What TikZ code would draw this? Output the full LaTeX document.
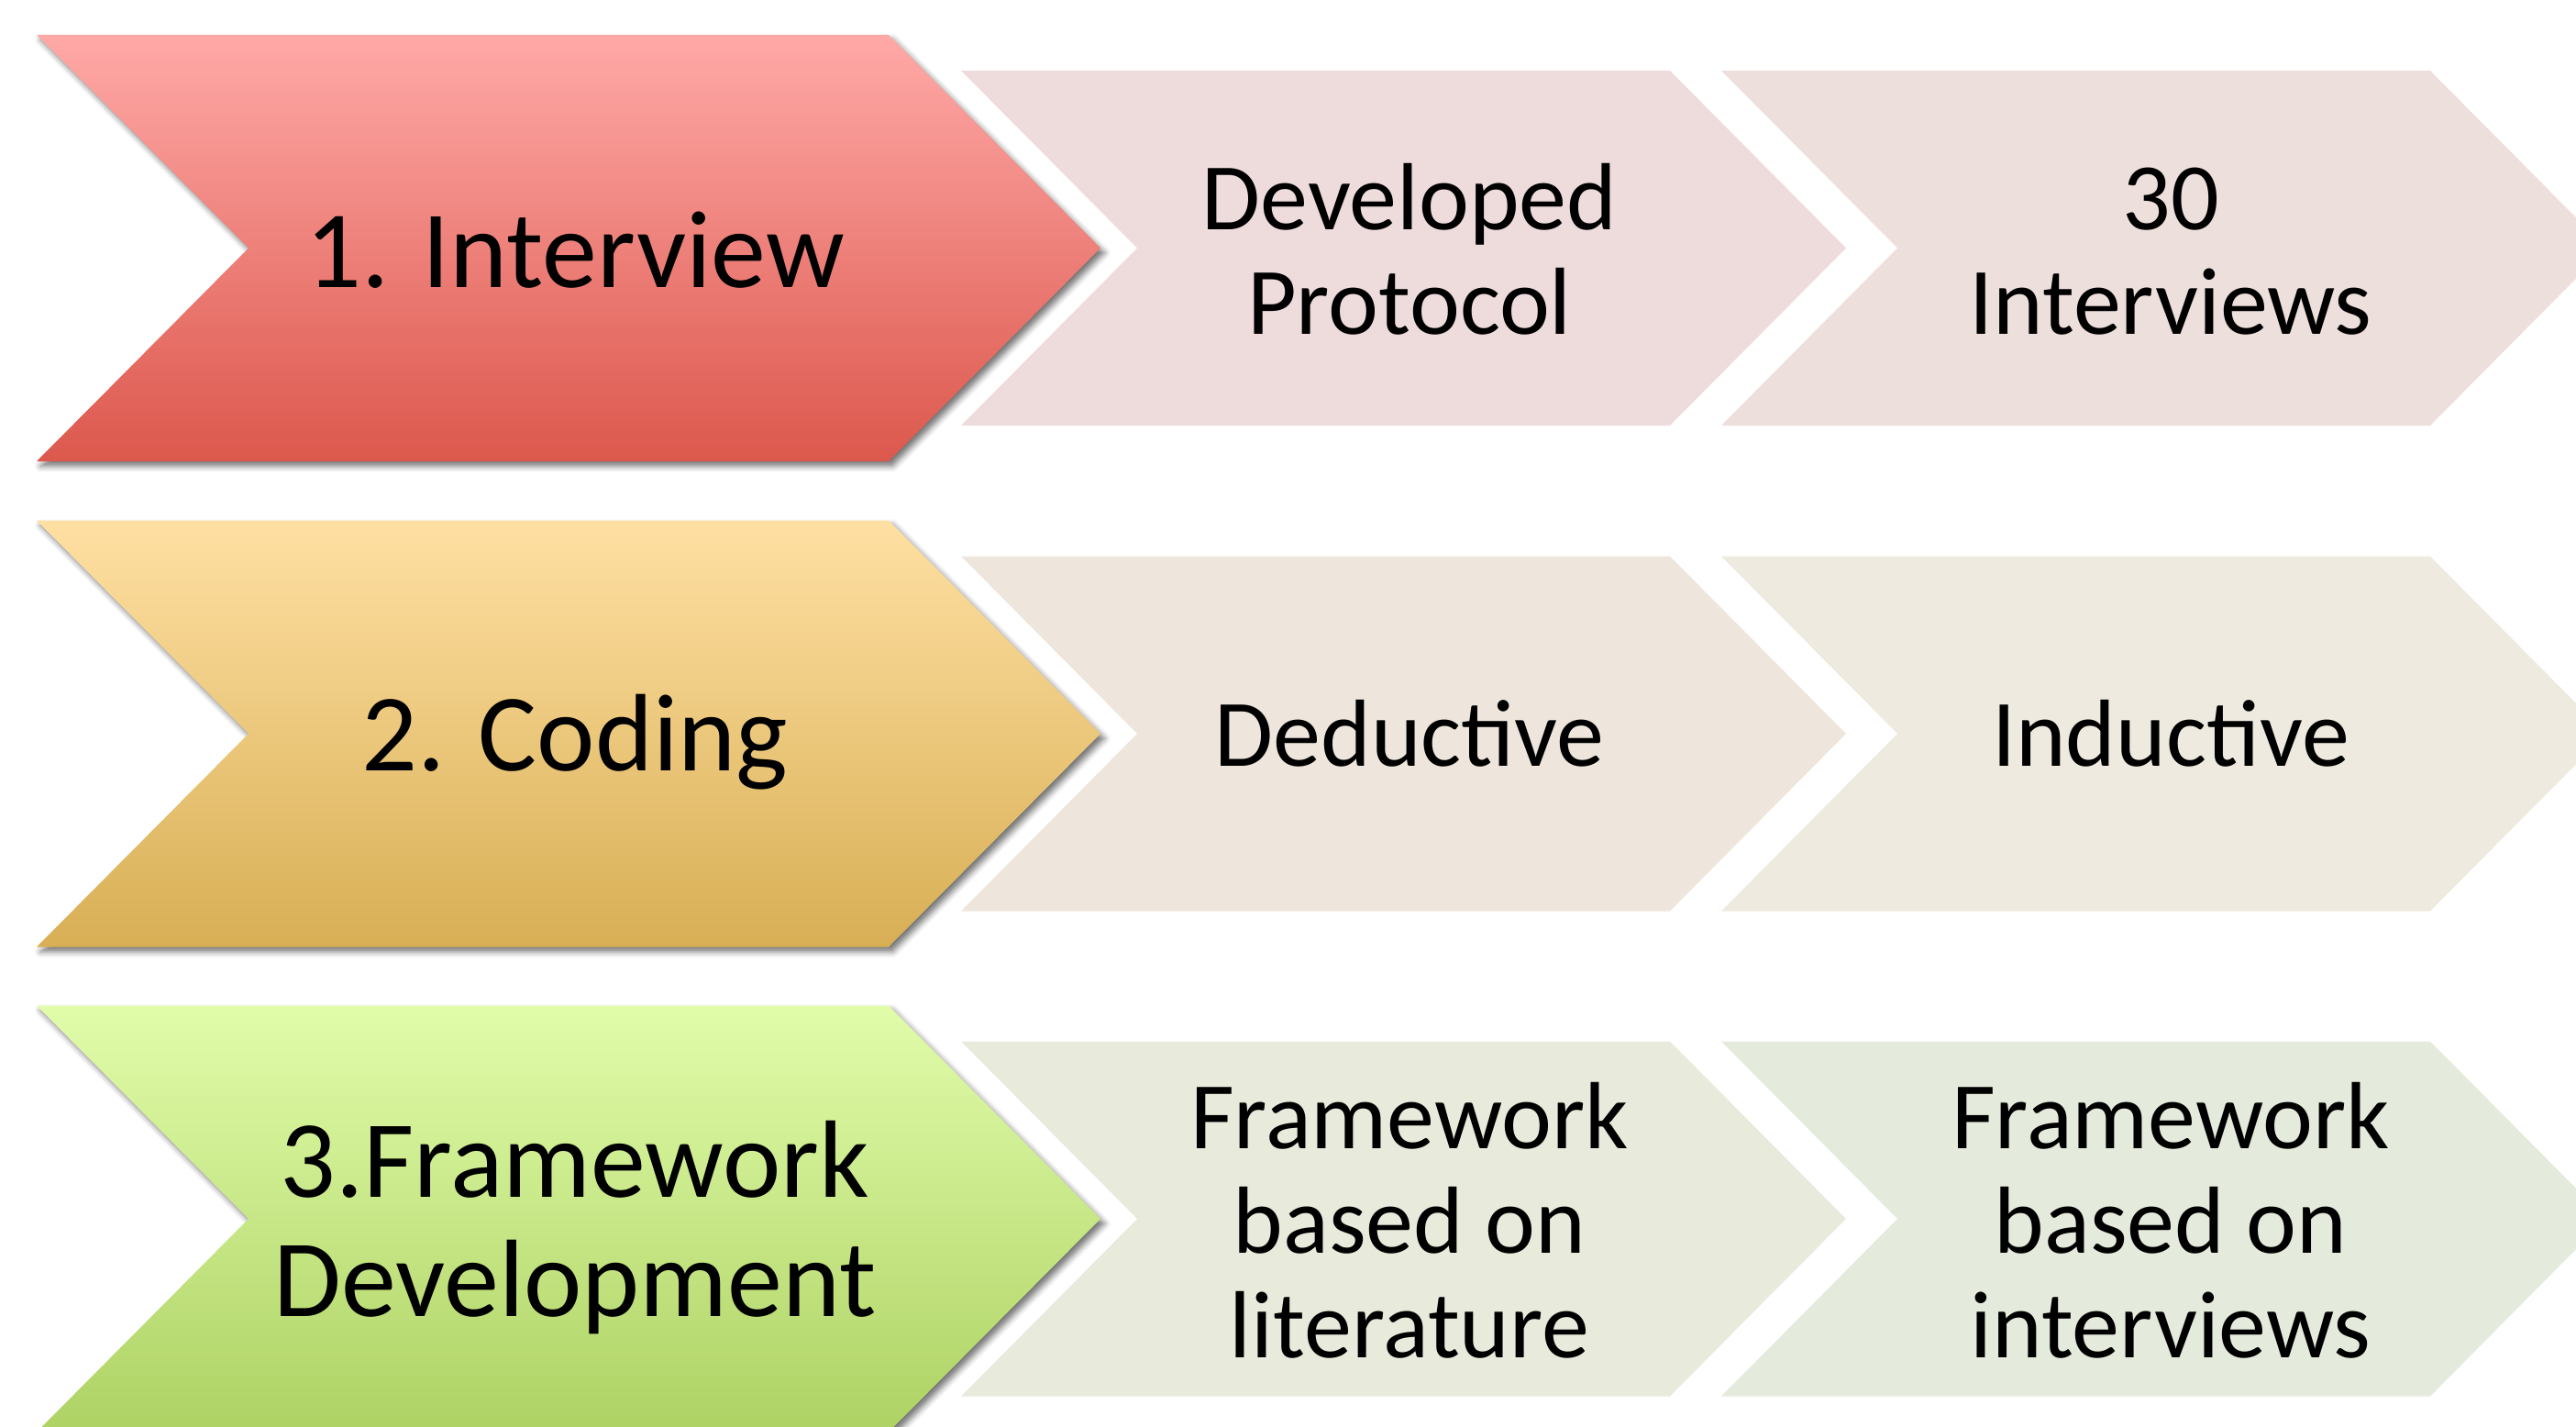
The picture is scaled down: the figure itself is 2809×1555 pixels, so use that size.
\documentclass[tikz,border=0pt]{standalone}
\usepackage{fontspec}
\setmainfont{Carlito}
\usetikzlibrary{shadows.blur}
\definecolor{redtop}{HTML}{FFA9A7}
\definecolor{redbot}{HTML}{DC584D}
\definecolor{orgtop}{HTML}{FFE0A3}
\definecolor{orgbot}{HTML}{D8AF55}
\definecolor{grntop}{HTML}{E1FCAA}
\definecolor{grnbot}{HTML}{AED264}
\definecolor{pinkA}{HTML}{EEDCDC}
\definecolor{pinkB}{HTML}{EDDFDC}
\definecolor{tanA}{HTML}{EEE6DC}
\definecolor{tanB}{HTML}{EEEADF}
\definecolor{olvA}{HTML}{E8EBDC}
\definecolor{olvB}{HTML}{E5EBDC}
\tikzset{
  bigshape/.style={blur shadow={shadow xshift=1.1pt, shadow yshift=-1.3pt, shadow blur radius=1.6pt, shadow opacity=55}},
  bigtxt/.style={anchor=base, align=center, inner sep=0pt, font=\fontsize{30}{32.5}\selectfont},
  smalltxt/.style={anchor=base, align=center, inner sep=0pt, font=\fontsize{26}{28.5}\selectfont},
}
% big chevron: #1 left x, #2 center y
\newcommand\bigchevron[4]{%
  \path[bigshape, top color=#3, bottom color=#4]
    (#1,#2-232.5) -- ++(929,0) -- (#1+1160,#2) -- (#1+929,#2+232.5) -- (#1,#2+232.5) -- (#1+231,#2) -- cycle;}
\newcommand\smallchevron[3]{%
  \fill[#3] (#1,#2-193.5) -- ++(773,0) -- (#1+965,#2) -- (#1+773,#2+193.5) -- (#1,#2+193.5) -- (#1+192,#2) -- cycle;}
\begin{document}
\begin{tikzpicture}[x=0.25pt,y=-0.25pt]
\useasboundingbox (0,0) rectangle (2809,1555);
\begin{scope}
\clip (0,0) rectangle (2809,1555);
% row 1
\smallchevron{1877}{270.5}{pinkB}
\smallchevron{1048}{270.5}{pinkA}
\bigchevron{40}{270.5}{redtop}{redbot}
% row 2
\smallchevron{1877}{800}{tanB}
\smallchevron{1048}{800}{tanA}
\bigchevron{40}{800}{orgtop}{orgbot}
% row 3
\smallchevron{1877}{1329}{olvB}
\smallchevron{1048}{1329}{olvA}
\bigchevron{40}{1329}{grntop}{grnbot}
\end{scope}
% texts (anchor=base is the baseline of the last line)
\node[bigtxt] (interview) at (627,313) {1. Interview};
\node[smalltxt] (protocol) at (1537,364) {Developed\\Protocol};
\node[smalltxt] (thirty) at (2367,364) {30\\Interviews};
\node[bigtxt] (coding) at (627,840) {2. Coding};
\node[smalltxt] (deductive) at (1537,835) {Deductive};
\node[smalltxt] (inductive) at (2367,835) {Inductive};
\node[bigtxt] (framework) at (627,1435) {3.Framework\\Development};
\node[smalltxt] (literature) at (1537,1480) {Framework\\based on\\literature};
\node[smalltxt] (interviews) at (2367,1480) {Framework\\based on\\interviews};
\end{tikzpicture}
\end{document}
